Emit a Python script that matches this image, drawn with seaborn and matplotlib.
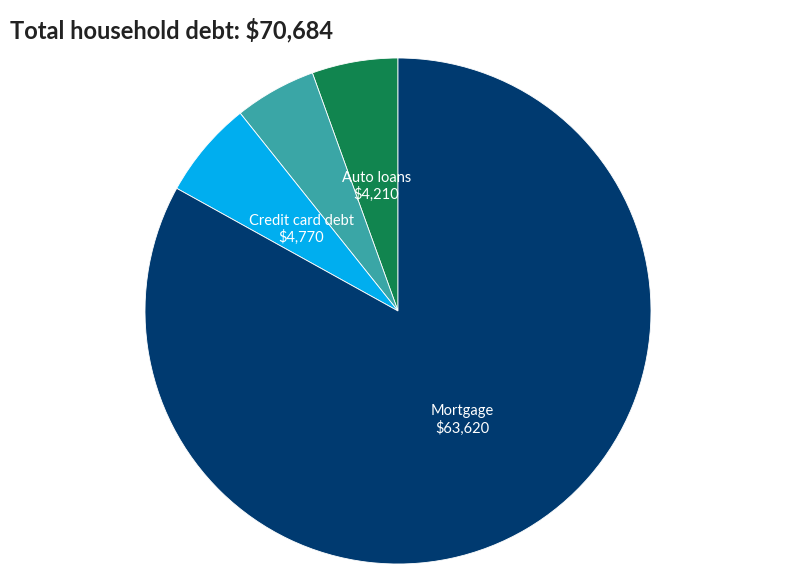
import matplotlib
matplotlib.use("Agg")
import matplotlib.pyplot as plt
import seaborn as sns

sns.set_theme(style="white")
plt.rcParams['font.family'] = ['Lato', 'DejaVu Sans']

# slices, counterclockwise from the top
categories = ["Auto loans", "", "Credit card debt", "Mortgage"]
values = [4210, 4000, 4770, 63620]
value_labels = ["$4,210", "", "$4,770", "$63,620"]
colors = ["#11854f", "#3aa6a6", "#00aeef", "#003a70"]

labels = [f"{c}\n{v}" if c else "" for c, v in zip(categories, value_labels)]

fig = plt.figure(figsize=(7.94, 5.75), dpi=100)
ax = fig.add_axes([145 / 794, 11 / 575, 506 / 794, 506 / 575])
wedges, texts = ax.pie(values, labels=labels, colors=colors, startangle=90,
                       counterclock=True, labeldistance=0.5,
                       wedgeprops=dict(edgecolor="white", linewidth=0.6),
                       textprops=dict(color="white", fontsize=10.5, ha="center", va="center"))
ax.set_xlim(-1, 1)
ax.set_ylim(-1, 1)
ax.set_aspect("equal")

fig.text(10 / 794, 1 - 30 / 575, "Total household debt: $70,684",
         fontsize=17, fontweight="bold", color="#222222", va="center")

fig.savefig("out.png", dpi=100)
